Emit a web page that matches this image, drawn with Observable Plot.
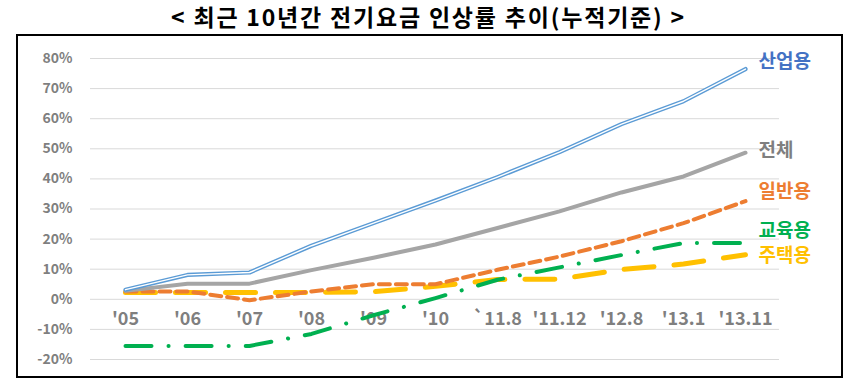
<!DOCTYPE html>
<html>
<head>
<meta charset="utf-8">
<script src="https://cdn.jsdelivr.net/npm/d3@7"></script>
<script src="https://cdn.jsdelivr.net/npm/@observablehq/plot@0.6"></script>
<style>
  html, body { margin: 0; padding: 0; background: #fff; }
  #wrap { position: relative; width: 857px; height: 385px; overflow: hidden; }
  #title { position: absolute; left: 0; top: 0; width: 857px; height: 34px; line-height: 32px;
           text-align: center; font-family: "Noto Sans CJK KR", sans-serif; font-weight: 700;
           font-size: 23px; letter-spacing: 1.8px; color: #000; }
  #frame { position: absolute; left: 16px; top: 34px; width: 823px; height: 340px; border: 2px solid #000; }
  #chart { position: absolute; left: 0; top: 34px; }
</style>
</head>
<body>
<div id="wrap">
  <div id="title">&lt; 최근 10년간 전기요금 인상률 추이(누적기준) &gt;</div>
  <div id="frame"></div>
  <div id="chart"></div>
</div>
<script>
const categories = ["'05", "'06", "'07", "'08", "'09", "'10", "`11.8", "'11.12", "'12.8", "'13.1", "'13.11"];
const industrial  = [3.2, 8.1, 8.9, 17.8, 25.3, 32.8, 40.6, 48.9, 58.2, 65.8, 76.5];
const total       = [2.8, 5.2, 5.2, 9.7, 13.8, 18.2, 23.7, 29.2, 35.5, 40.8, 48.7];
const general     = [2.6, 2.6, -0.3, 2.6, 5.0, 5.0, 9.8, 14.2, 19.3, 25.3, 32.6];
const education   = [-15.5, -15.5, -15.5, -11.5, -5.3, 0.4, 6.5, 10.6, 14.7, 18.7, 18.7];
const residential = [2.3, 2.3, 2.3, 2.3, 2.5, 4.3, 6.6, 6.7, 9.9, 11.7, 14.8];
const seriesNames = ["산업용", "전체", "일반용", "교육용", "주택용"];
const yTicks = [-20, -10, 0, 10, 20, 30, 40, 50, 60, 70, 80];

const toRows = (vals) => vals.map((v, i) => ({cat: categories[i], v}));
const rows = {
  "산업용": toRows(industrial),
  "전체": toRows(total),
  "일반용": toRows(general),
  "교육용": toRows(education),
  "주택용": toRows(residential)
};
const labelStyle = {
  "산업용": {fill: "#4472C4", dy: -7},
  "전체":   {fill: "#7F7F7F", dy: -2},
  "일반용": {fill: "#ED7D31", dy: -9},
  "교육용": {fill: "#00B050", dy: -12},
  "주택용": {fill: "#FFC000", dy: 1}
};
const curve = "linear";

const marks = [
  Plot.gridY(yTicks, {stroke: "#d9d9d9", strokeOpacity: 1, strokeWidth: 1}),
  Plot.axisY(yTicks, {tickSize: 0, tickPadding: 18, tickFormat: d => d + "%", label: null,
    fill: "#7f7f7f", fontSize: 14, fontWeight: 700}),
  Plot.text(categories, {x: d => d, frameAnchor: "bottom", dy: -35, text: d => d,
    fill: "#7f7f7f", fontSize: 18, fontWeight: 700}),
  // 주택용
  Plot.lineY(rows["주택용"], {x: "cat", y: "v", curve, stroke: "#FFC000", strokeWidth: 5,
    strokeDasharray: "30,20", strokeLinecap: "round"}),
  // 교육용
  Plot.lineY(rows["교육용"], {x: "cat", y: "v", curve, stroke: "#00B050", strokeWidth: 4,
    strokeDasharray: "26,17,0.1,17", strokeLinecap: "round"}),
  // 일반용
  Plot.lineY(rows["일반용"], {x: "cat", y: "v", curve, stroke: "#ED7D31", strokeWidth: 4,
    strokeDasharray: "11,6"}),
  // 전체
  Plot.lineY(rows["전체"], {x: "cat", y: "v", curve, stroke: "#A5A5A5", strokeWidth: 4}),
  // 산업용 (double line)
  Plot.lineY(rows["산업용"], {x: "cat", y: "v", curve, stroke: "#5B9BD5", strokeWidth: 4.2}),
  Plot.lineY(rows["산업용"], {x: "cat", y: "v", curve, stroke: "#ffffff", strokeWidth: 1.4})
];
for (const name of seriesNames) {
  const r = rows[name];
  marks.push(Plot.text([r[r.length - 1]], {x: "cat", y: "v", text: () => name,
    fill: labelStyle[name].fill, dx: 13, dy: labelStyle[name].dy, textAnchor: "start",
    fontSize: 19, fontWeight: 700}));
}

const chart = Plot.plot({
  width: 857,
  height: 351,
  marginLeft: 90,
  marginRight: 78,
  marginTop: 24,
  marginBottom: 26,
  style: {fontFamily: "'Noto Sans CJK KR', 'Noto Sans', sans-serif", background: "transparent", overflow: "visible"},
  x: {type: "point", domain: categories, padding: 0.5, axis: null},
  y: {domain: [-20, 80], axis: null},
  marks
});
document.getElementById("chart").appendChild(chart);
</script>
</body>
</html>
